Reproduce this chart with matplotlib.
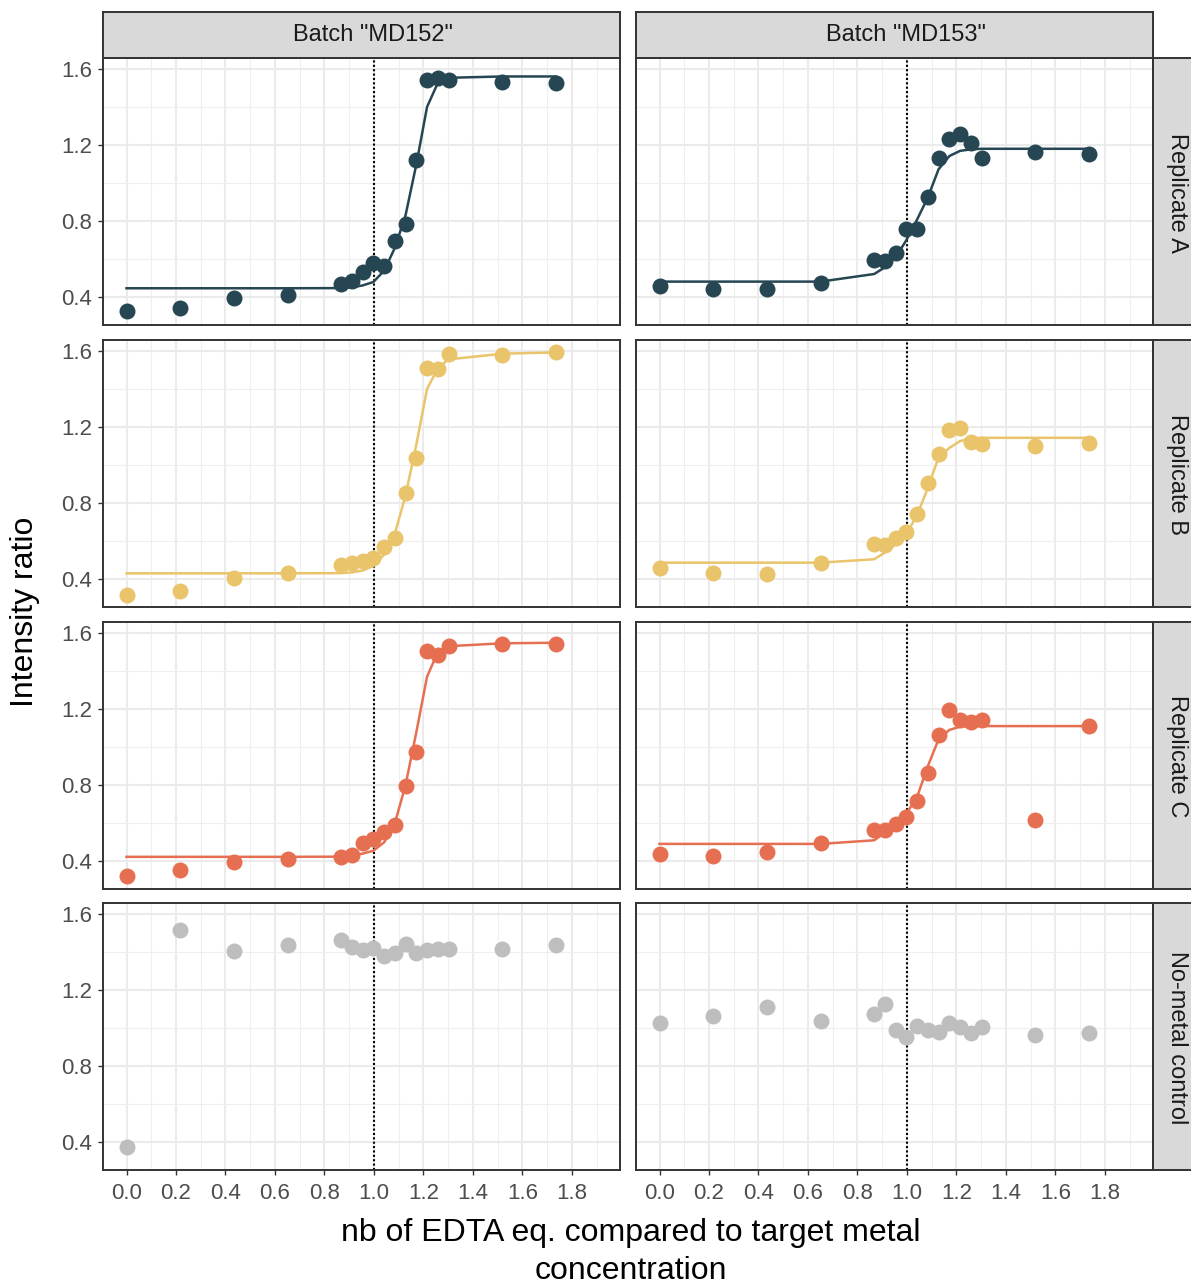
import matplotlib
matplotlib.use("Agg")
import matplotlib.pyplot as plt
import numpy as np

plt.rcParams['font.family'] = ['Liberation Sans', 'DejaVu Sans']

# ---------------- data ----------------
edta_eq = [0.0, 0.217, 0.434, 0.651, 0.868, 0.911, 0.955, 0.998, 1.042,
           1.085, 1.128, 1.172, 1.215, 1.259, 1.302, 1.519, 1.736]

batches = ['Batch "MD152"', 'Batch "MD153"']
conditions = ['Replicate A', 'Replicate B', 'Replicate C', 'No-metal control']

md152_A = [0.327, 0.342, 0.396, 0.412, 0.470, 0.487, 0.531, 0.578, 0.566,
           0.693, 0.784, 1.120, 1.539, 1.553, 1.544, 1.530, 1.528]
md152_A_fit = [0.447, 0.447, 0.447, 0.447, 0.448, 0.452, 0.462, 0.480, 0.540,
               0.660, 0.830, 1.100, 1.400, 1.527, 1.553, 1.560, 1.560]
md153_A = [0.461, 0.444, 0.444, 0.473, 0.596, 0.589, 0.631, 0.758, 0.758,
           0.928, 1.130, 1.230, 1.256, 1.212, 1.134, 1.163, 1.155]
md153_A_fit = [0.482, 0.482, 0.482, 0.482, 0.522, 0.557, 0.610, 0.700, 0.810,
               0.925, 1.072, 1.142, 1.169, 1.177, 1.180, 1.180, 1.180]

md152_B = [0.318, 0.339, 0.405, 0.435, 0.473, 0.484, 0.496, 0.514, 0.567,
           0.619, 0.855, 1.035, 1.511, 1.505, 1.584, 1.577, 1.593]
md152_B_fit = [0.431, 0.431, 0.431, 0.431, 0.432, 0.436, 0.446, 0.470, 0.530,
               0.640, 0.840, 1.110, 1.400, 1.510, 1.555, 1.585, 1.592]
md153_B = [0.461, 0.435, 0.426, 0.487, 0.587, 0.580, 0.619, 0.648, 0.745,
           0.907, 1.056, 1.183, 1.196, 1.122, 1.108, 1.100, 1.117]
md153_B_fit = [0.487, 0.487, 0.487, 0.487, 0.505, 0.540, 0.584, 0.636, 0.740,
               0.880, 1.040, 1.090, 1.126, 1.140, 1.143, 1.143, 1.143]

md152_C = [0.321, 0.353, 0.397, 0.412, 0.421, 0.435, 0.496, 0.517, 0.552,
           0.592, 0.794, 0.974, 1.502, 1.484, 1.533, 1.542, 1.542]
md152_C_fit = [0.423, 0.423, 0.423, 0.423, 0.424, 0.430, 0.440, 0.455, 0.500,
               0.600, 0.800, 1.080, 1.370, 1.500, 1.530, 1.545, 1.548]
md153_C = [0.438, 0.429, 0.447, 0.496, 0.566, 0.562, 0.597, 0.632, 0.714,
           0.862, 1.064, 1.192, 1.143, 1.129, 1.143, 0.618, 1.110]
md153_C_fit = [0.491, 0.491, 0.491, 0.491, 0.510, 0.550, 0.590, 0.650, 0.740,
               0.900, 1.040, 1.090, 1.107, 1.110, 1.110, 1.110, 1.110]

ctrl_md152 = [0.374, 1.514, 1.404, 1.434, 1.465, 1.425, 1.410, 1.422, 1.378,
              1.392, 1.443, 1.392, 1.410, 1.417, 1.413, 1.413, 1.434]
ctrl_md153 = [1.025, 1.064, 1.113, 1.038, 1.076, 1.128, 0.990, 0.955, 1.011,
              0.990, 0.980, 1.025, 1.003, 0.973, 1.006, 0.962, 0.973]

colors = ['#264653', '#E9C46A', '#E76F51', '#BEBEBE']

points = [[md152_A, md153_A], [md152_B, md153_B], [md152_C, md153_C],
          [ctrl_md152, ctrl_md153]]
fits = [[md152_A_fit, md153_A_fit], [md152_B_fit, md153_B_fit],
        [md152_C_fit, md153_C_fit], [None, None]]

x_ticks = [0.0, 0.2, 0.4, 0.6, 0.8, 1.0, 1.2, 1.4, 1.6, 1.8]
y_ticks = [0.4, 0.8, 1.2, 1.6]

# ---------------- layout ----------------
W, H = 1191, 1284
fig = plt.figure(figsize=(W / 100, H / 100), dpi=100)
fig.patch.set_facecolor('white')

col_x = [(103, 620), (636, 1153)]
row_y = [(58, 325), (340, 607), (622, 889), (903, 1170)]
strip_top = (12, 58)
strip_right = (1153, 1195)


def frac_rect(x0, x1, y0, y1):
    return [x0 / W, 1 - y1 / H, (x1 - x0) / W, (y1 - y0) / H]


border = '#333333'
for r in range(4):
    for c in range(2):
        ax = fig.add_axes(frac_rect(col_x[c][0], col_x[c][1], row_y[r][0], row_y[r][1]))
        ax.set_xlim(-0.095, 1.995)
        ax.set_ylim(0.254, 1.657)
        ax.set_xticks(x_ticks)
        ax.set_xticks(np.arange(0.1, 2.0, 0.2), minor=True)
        ax.set_yticks(y_ticks)
        ax.set_yticks([0.6, 1.0, 1.4], minor=True)
        ax.grid(True, which='major', color='#EBEBEB', lw=1.5, zorder=0)
        ax.grid(True, which='minor', color='#EFEFEF', lw=0.8, zorder=0)
        ax.set_axisbelow(True)
        for s in ax.spines.values():
            s.set_color(border)
            s.set_linewidth(1.4)
            s.set_zorder(10)
        ax.tick_params(which='major', length=3.6, width=1.0, color=border,
                       labelcolor='#4D4D4D', labelsize=16, pad=4)
        ax.tick_params(axis='x', which='major', pad=6)
        ax.tick_params(which='minor', length=0)
        if c == 0:
            ax.set_yticklabels([f'{v:.1f}' for v in y_ticks])
        else:
            ax.tick_params(axis='y', which='major', length=0, labelleft=False)
        if r == 3:
            ax.set_xticklabels([f'{v:.1f}' for v in x_ticks])
        else:
            ax.tick_params(axis='x', which='major', length=0, labelbottom=False)

        ax.axvline(1.0, color='black', lw=1.5, ls=(0, (1, 1.1)), zorder=2)
        ax.plot(edta_eq, points[r][c], 'o', ms=11.5, color=colors[r],
                mec='none', zorder=3)
        if fits[r][c] is not None:
            ax.plot(edta_eq, fits[r][c], '-', lw=1.8, color=colors[r], zorder=4)

# top strips
for c in range(2):
    sax = fig.add_axes(frac_rect(col_x[c][0], col_x[c][1], strip_top[0], strip_top[1]))
    sax.set_facecolor('#D9D9D9')
    sax.set_xticks([]); sax.set_yticks([])
    for s in sax.spines.values():
        s.set_color(border); s.set_linewidth(1.4)
    sax.text(0.522, 0.5, batches[c], ha='center', va='center', fontsize=17,
             color='#1A1A1A', transform=sax.transAxes)

# right strips
for r in range(4):
    sax = fig.add_axes(frac_rect(strip_right[0], strip_right[1], row_y[r][0], row_y[r][1]))
    sax.set_facecolor('#D9D9D9')
    sax.set_xticks([]); sax.set_yticks([])
    for s in sax.spines.values():
        s.set_color(border); s.set_linewidth(1.4)
    fig.text(1177 / W, 1 - ((row_y[r][0] + row_y[r][1]) / 2 + 1) / H, conditions[r],
             rotation=270, ha='center', va='center', fontsize=17, color='#1A1A1A')

# axis titles
fig.text(25 / W, 1 - 612 / H, 'Intensity ratio', rotation=90, ha='center',
         va='center', fontsize=23)
fig.text(631 / W, 1 - 1252 / H, 'nb of EDTA eq. compared to target metal\nconcentration',
         ha='center', va='center', multialignment='center', fontsize=23,
         linespacing=1.36)

fig.savefig('out.png', dpi=100, facecolor='white')
